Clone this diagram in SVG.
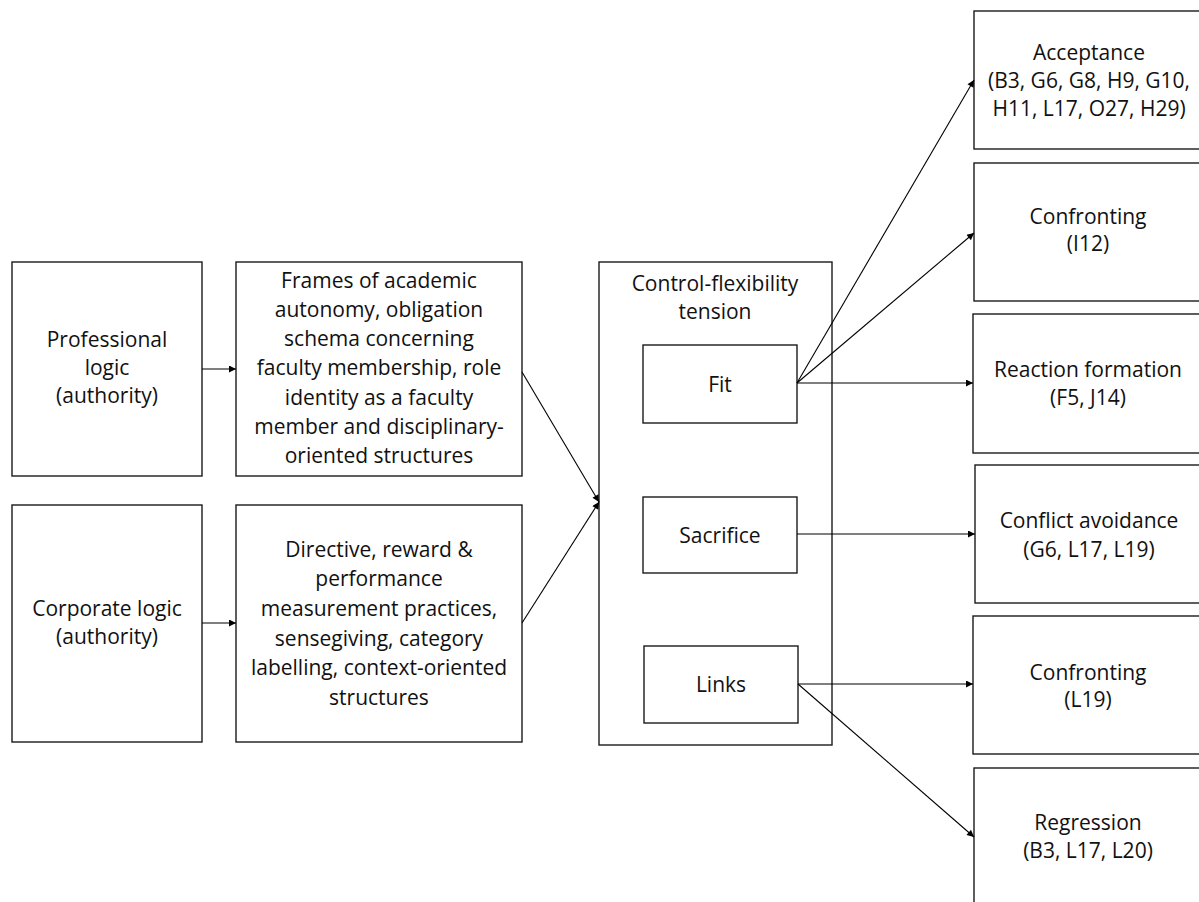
<svg xmlns="http://www.w3.org/2000/svg" width="1199" height="902" viewBox="0 0 1199 902">
  <style>
    .box { fill: #ffffff; stroke: #1a1a1a; stroke-width: 1.4; }
    .lbl { font-family: "Open Sans", "Liberation Sans", sans-serif; font-size: 21px; fill: #111111; text-anchor: middle; }
    .conn { stroke: #000000; stroke-width: 1.1; fill: none; marker-end: url(#arrow); }
  </style>
  <defs>
    <marker id="arrow" viewBox="0 0 10 10" refX="10" refY="5" markerWidth="9" markerHeight="7" markerUnits="userSpaceOnUse" orient="auto">
      <path d="M0,0 L10,5 L0,10 z" fill="#000000"/>
    </marker>
  </defs>

  <rect width="1199" height="902" fill="#ffffff"/>

  <!-- Institutional logics -->
  <g id="professional-logic">
    <rect class="box" x="12" y="262" width="190" height="214"/>
    <text class="lbl" x="107" y="347">Professional</text>
    <text class="lbl" x="107" y="375">logic</text>
    <text class="lbl" x="107" y="403">(authority)</text>
  </g>
  <g id="corporate-logic">
    <rect class="box" x="12" y="505" width="190" height="237"/>
    <text class="lbl" x="107" y="616">Corporate logic</text>
    <text class="lbl" x="107" y="644">(authority)</text>
  </g>

  <!-- Carriers of each logic -->
  <g id="professional-carriers">
    <rect class="box" x="236" y="262" width="286" height="214"/>
    <text class="lbl" x="379" y="288">Frames of academic</text>
    <text class="lbl" x="379" y="317">autonomy, obligation</text>
    <text class="lbl" x="379" y="346">schema concerning</text>
    <text class="lbl" x="379" y="375">faculty membership, role</text>
    <text class="lbl" x="379" y="405">identity as a faculty</text>
    <text class="lbl" x="379" y="434">member and disciplinary-</text>
    <text class="lbl" x="379" y="463">oriented structures</text>
  </g>
  <g id="corporate-carriers">
    <rect class="box" x="236" y="505" width="286" height="237"/>
    <text class="lbl" x="379" y="557">Directive, reward &amp;</text>
    <text class="lbl" x="379" y="586">performance</text>
    <text class="lbl" x="379" y="616">measurement practices,</text>
    <text class="lbl" x="379" y="646">sensegiving, category</text>
    <text class="lbl" x="379" y="675">labelling, context-oriented</text>
    <text class="lbl" x="379" y="705">structures</text>
  </g>

  <!-- Tension and its three dimensions -->
  <g id="tension">
    <rect class="box" x="599" y="262" width="233" height="483"/>
    <text class="lbl" x="715" y="291">Control-flexibility</text>
    <text class="lbl" x="715" y="319">tension</text>
  </g>
  <g id="fit">
    <rect class="box" x="643" y="345" width="154" height="78"/>
    <text class="lbl" x="720" y="392">Fit</text>
  </g>
  <g id="sacrifice">
    <rect class="box" x="643" y="497" width="154" height="76"/>
    <text class="lbl" x="720" y="543">Sacrifice</text>
  </g>
  <g id="links">
    <rect class="box" x="644" y="646" width="154" height="77"/>
    <text class="lbl" x="721" y="692">Links</text>
  </g>

  <!-- Responses -->
  <g id="acceptance">
    <rect class="box" x="974" y="11" width="232" height="138"/>
    <text class="lbl" x="1089" y="60">Acceptance</text>
    <text class="lbl" x="1089" y="88">(B3, G6, G8, H9, G10,</text>
    <text class="lbl" x="1089" y="116">H11, L17, O27, H29)</text>
  </g>
  <g id="confronting-i12">
    <rect class="box" x="974" y="163" width="232" height="138"/>
    <text class="lbl" x="1088" y="224">Confronting</text>
    <text class="lbl" x="1088" y="251">(I12)</text>
  </g>
  <g id="reaction-formation">
    <rect class="box" x="973" y="314" width="233" height="139"/>
    <text class="lbl" x="1088" y="377">Reaction formation</text>
    <text class="lbl" x="1088" y="405">(F5, J14)</text>
  </g>
  <g id="conflict-avoidance">
    <rect class="box" x="975" y="465" width="231" height="138"/>
    <text class="lbl" x="1089" y="528">Conflict avoidance</text>
    <text class="lbl" x="1089" y="557">(G6, L17, L19)</text>
  </g>
  <g id="confronting-l19">
    <rect class="box" x="973" y="616" width="233" height="138"/>
    <text class="lbl" x="1088" y="680">Confronting</text>
    <text class="lbl" x="1088" y="707">(L19)</text>
  </g>
  <g id="regression">
    <rect class="box" x="974" y="768" width="232" height="150"/>
    <text class="lbl" x="1088" y="830">Regression</text>
    <text class="lbl" x="1088" y="858">(B3, L17, L20)</text>
  </g>

  <!-- Connectors -->
  <g id="connectors">
    <line class="conn" x1="202" y1="369" x2="236" y2="369"/>
    <line class="conn" x1="202" y1="623" x2="236" y2="623"/>
    <line class="conn" x1="522" y1="372" x2="599" y2="502"/>
    <line class="conn" x1="522" y1="623" x2="599" y2="502"/>
    <line class="conn" x1="797" y1="383" x2="974" y2="80"/>
    <line class="conn" x1="797" y1="383" x2="974" y2="233"/>
    <line class="conn" x1="797" y1="383" x2="973" y2="383"/>
    <line class="conn" x1="797" y1="534" x2="975" y2="534"/>
    <line class="conn" x1="798" y1="684" x2="973" y2="684"/>
    <line class="conn" x1="798" y1="684" x2="974" y2="837"/>
  </g>
</svg>
